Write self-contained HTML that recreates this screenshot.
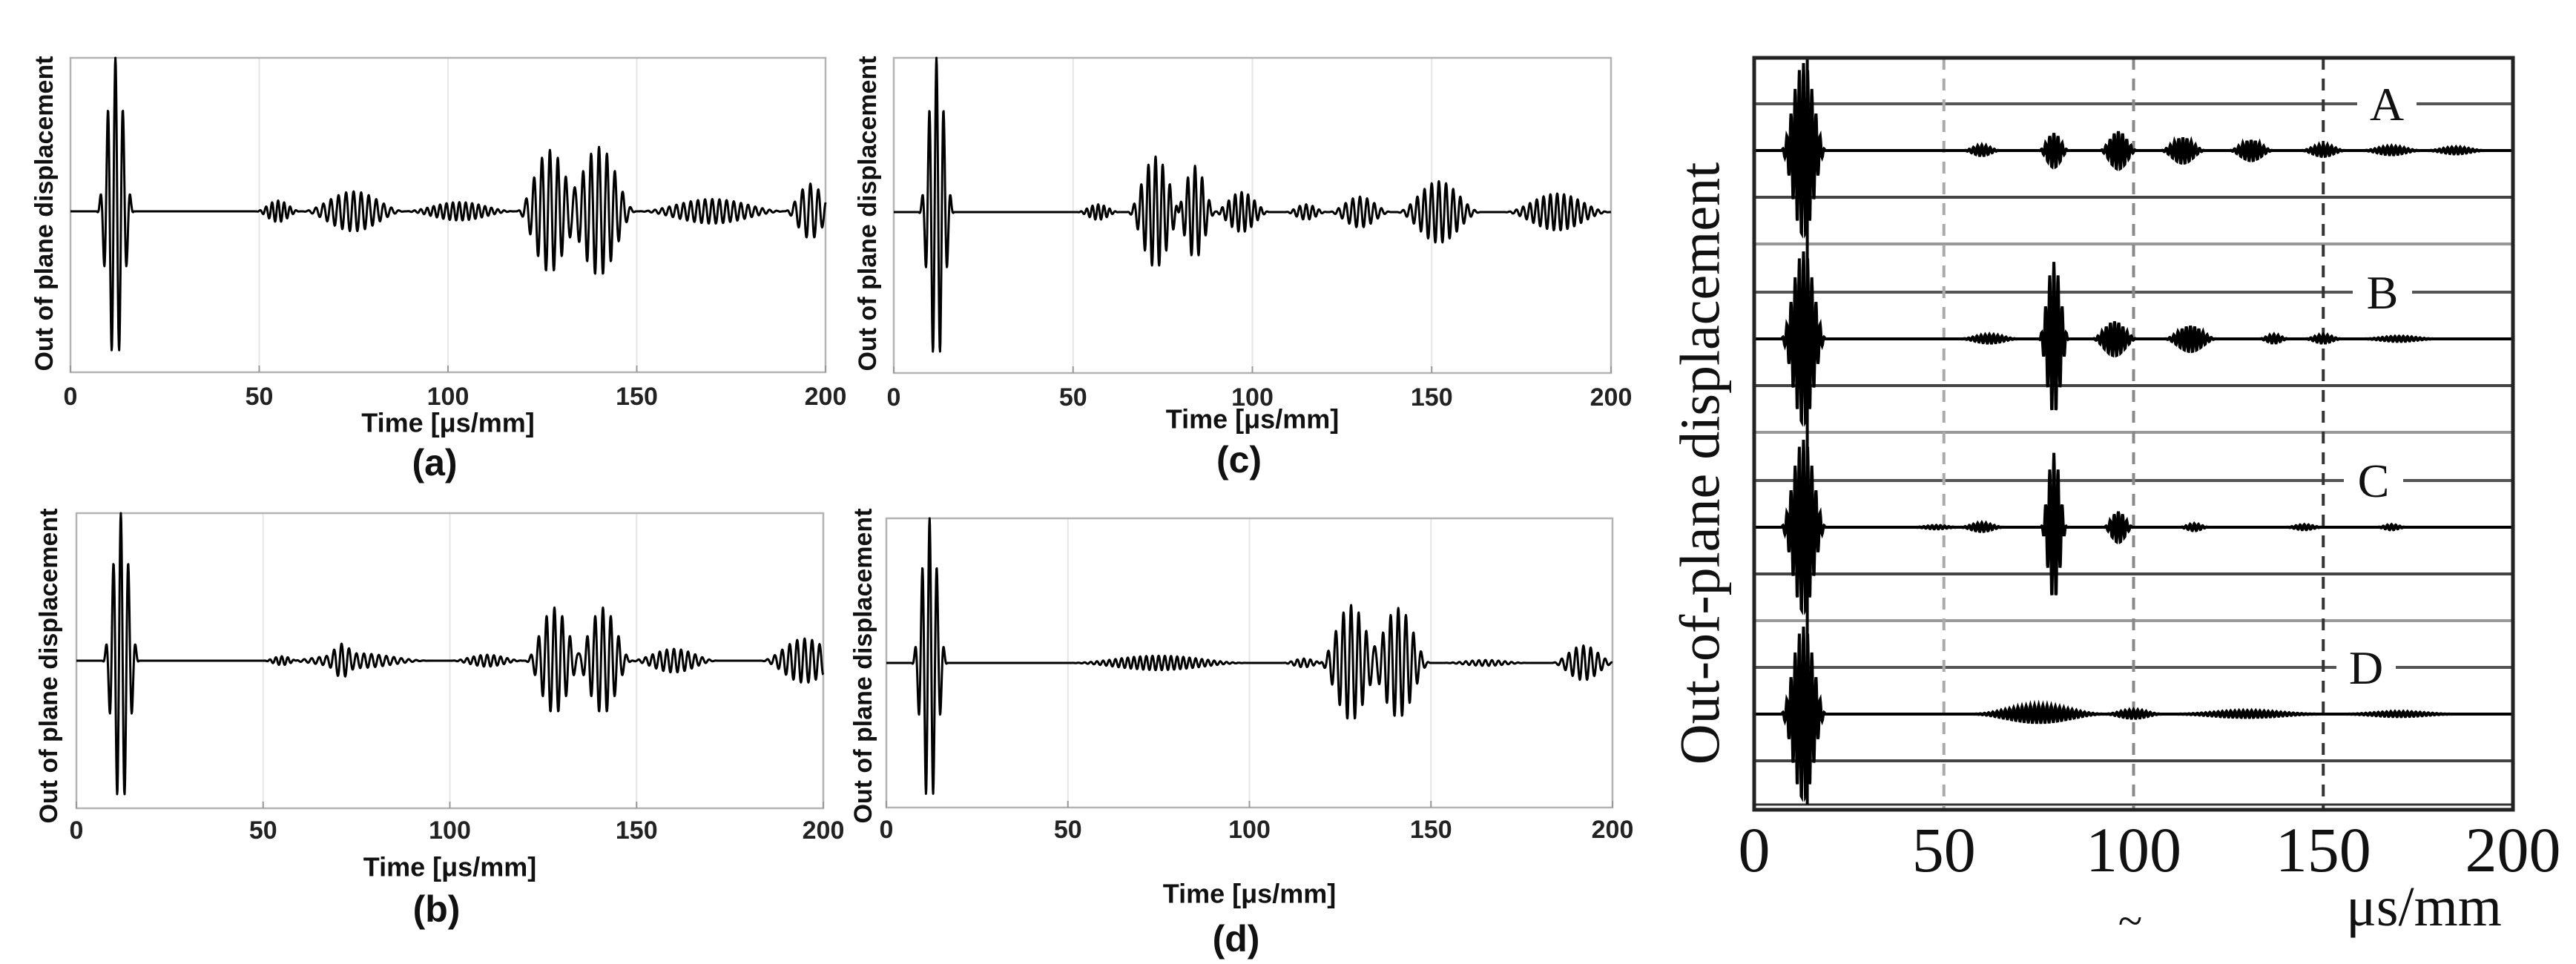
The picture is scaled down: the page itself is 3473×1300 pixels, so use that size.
<!DOCTYPE html>
<html><head><meta charset="utf-8"><style>
html,body{margin:0;padding:0;background:#fff;}
svg{display:block;}
.tk{font-family:"Liberation Sans",Arial,sans-serif;font-weight:bold;font-size:34px;fill:#222;}
.yl{font-family:"Liberation Sans",Arial,sans-serif;font-weight:bold;font-size:34px;fill:#111;}
.xl{font-family:"Liberation Sans",Arial,sans-serif;font-weight:bold;font-size:36px;fill:#111;}
.pl{font-family:"Liberation Sans",Arial,sans-serif;font-weight:bold;font-size:50px;fill:#111;}
.rt{font-family:"Liberation Serif","Times New Roman",serif;fill:#111;}
</style></head><body>
<svg id="fig" width="3473" height="1300" viewBox="0 0 3473 1300" xmlns="http://www.w3.org/2000/svg"></svg>
<script>
// ---- data: wave packets (center µs, half-width µs, amplitude, period µs)
const xTicks = [0, 50, 100, 150, 200];
const xTickLabels = ["0", "50", "100", "150", "200"];

const aCenters = [11.9, 55, 75, 103, 127, 140, 170, 196];
const aWidths  = [5, 6, 14, 15, 9, 10, 20, 7];
const aAmps    = [1.0, 0.07, 0.13, 0.06, 0.40, 0.42, 0.08, 0.18];
const aPeriods = [2.0, 1.6, 2.0, 1.7, 2.1, 2.1, 1.9, 2.1];

const bCenters = [11.9, 55, 75, 71, 110, 128, 141, 160, 195];
const bWidths  = [5, 5, 20, 4, 10, 8, 8, 12, 12];
const bAmps    = [1.0, 0.03, 0.05, 0.07, 0.04, 0.36, 0.36, 0.08, 0.15];
const bPeriods = [2.0, 1.6, 2.0, 2.0, 1.8, 2.1, 2.1, 1.9, 2.0];

const cCenters = [11.9, 57, 73, 84, 97, 115, 130, 152, 185];
const cWidths  = [5, 6, 8, 6, 8, 6, 9, 12, 15];
const cAmps    = [1.0, 0.05, 0.36, 0.30, 0.13, 0.05, 0.10, 0.20, 0.12];
const cPeriods = [2.0, 1.6, 2.0, 2.0, 1.8, 1.8, 2.0, 2.0, 1.9];

const dCenters = [11.9, 75, 115, 128, 141, 165, 192];
const dWidths  = [5, 25, 6, 9, 9, 12, 9];
const dAmps    = [1.0, 0.05, 0.03, 0.40, 0.38, 0.02, 0.12];
const dPeriods = [2.0, 1.7, 1.8, 2.1, 2.1, 1.8, 2.0];

// right panel traces
const traceLabels = ["A", "B", "C", "D"];
const rACenters = [13, 60, 79, 96, 113, 131, 150, 168, 185];
const rAWidths  = [6, 5, 4, 5, 6, 6, 6, 8, 8];
const rAAmps    = [1.0, 0.06, 0.2, 0.22, 0.15, 0.12, 0.07, 0.05, 0.04];
const rBCenters = [13, 62, 79, 95, 115, 137, 150, 170];
const rBWidths  = [6, 8, 4, 6, 7, 4, 5, 10];
const rBAmps    = [1.0, 0.05, 0.88, 0.2, 0.15, 0.05, 0.05, 0.03];
const rCCenters = [13, 48, 60, 79, 96, 116, 145, 168];
const rCWidths  = [6, 6, 6, 3.5, 4, 4, 5, 4];
const rCAmps    = [1.0, 0.02, 0.05, 0.85, 0.18, 0.04, 0.03, 0.03];
const rDCenters = [13, 75, 100, 130, 170];
const rDWidths  = [6, 18, 8, 20, 15];
const rDAmps    = [1.0, 0.1, 0.05, 0.04, 0.03];

const NS = "http://www.w3.org/2000/svg";
const svg = document.getElementById("fig");
function mk(tag, attrs, parent) {
  const e = document.createElementNS(NS, tag);
  for (const k in attrs) e.setAttribute(k, attrs[k]);
  (parent || svg).appendChild(e);
  return e;
}
function env(t, c, hw) {
  const d = t - c;
  if (Math.abs(d) >= hw) return 0;
  return 0.5 * (1 + Math.cos(Math.PI * d / hw));
}
function signal(t, C, W, A, P) {
  let s = 0;
  for (let i = 0; i < C.length; i++) {
    const e = env(t, C[i], W[i]);
    if (e > 0) s += A[i] * e * Math.sin(2 * Math.PI * (t - C[i]) / P[i] + Math.PI / 2);
  }
  return s;
}

function smallPanel(id, box, C, W, A, P, ylx, yly, tly, lbly, letter) {
  const g = mk("g", {});
  
  
  const xs = v => box.x0 + (v / 200) * (box.x1 - box.x0);
  const amp = box.zero - box.y0;
  const ys = v => box.zero - v * amp;
  for (let i = 1; i < xTicks.length - 1; i++) {
    const gl = mk("line", {x1: xs(xTicks[i]), x2: xs(xTicks[i]), y1: box.y0, y2: box.y1, stroke: "#e6e6e6", "stroke-width": 2}, g);
    
    
  }
  const fr = mk("rect", {x: box.x0, y: box.y0, width: box.x1 - box.x0, height: box.y1 - box.y0, fill: "none", stroke: "#b3b3b3", "stroke-width": 2.5}, g);
  
  
  for (let i = 0; i < xTicks.length; i++) {
    const x = xs(xTicks[i]);
    const tm = mk("line", {x1: x, x2: x, y1: box.y1, y2: box.y1 - 9, stroke: "#999", "stroke-width": 2}, g);
    
    
    const tl = mk("text", {x: x, y: tly, "text-anchor": "middle", "dominant-baseline": "middle", class: "tk"}, g);
    tl.textContent = xTickLabels[i];
    
    
  }
  let d = "";
  for (let t = 0; t <= 200; t += 0.1) {
    d += (t === 0 ? "M" : "L") + xs(t).toFixed(1) + " " + ys(signal(t, C, W, A, P)).toFixed(1);
  }
  const path = mk("path", {d: d, fill: "none", stroke: "#000", "stroke-width": 3, "stroke-linejoin": "round"}, g);
  
  
  const yl = mk("text", {x: ylx, y: yly, "text-anchor": "middle", "dominant-baseline": "middle", class: "yl", transform: "rotate(-90 " + ylx + " " + yly + ")"}, g);
  yl.textContent = "Out of plane displacement";
  
  
  const xl = mk("text", {x: (box.x0 + box.x1) / 2, y: lbly[0], "text-anchor": "middle", "dominant-baseline": "middle", class: "xl"}, g);
  xl.textContent = "Time [μs/mm]";
  
  
  const pl = mk("text", {x: (box.x0 + box.x1) / 2 - 18, y: lbly[1], "text-anchor": "middle", "dominant-baseline": "middle", class: "pl"}, g);
  pl.textContent = letter;
  
  
}

smallPanel("a", {x0: 95, x1: 1113, y0: 78, y1: 502, zero: 285}, aCenters, aWidths, aAmps, aPeriods, 62, 288, 537, [573, 628], "(a)");
smallPanel("c", {x0: 1205, x1: 2172, y0: 78, y1: 503, zero: 286}, cCenters, cWidths, cAmps, cPeriods, 1172, 288, 538, [568, 624], "(c)");
smallPanel("b", {x0: 103, x1: 1110, y0: 692, y1: 1090, zero: 891}, bCenters, bWidths, bAmps, bPeriods, 68, 898, 1122, [1172, 1230], "(b)");
smallPanel("d", {x0: 1195, x1: 2174, y0: 699, y1: 1089, zero: 894}, dCenters, dWidths, dAmps, dPeriods, 1166, 898, 1121, [1208, 1270], "(d)");

// ---- right panel
(function () {
  const g = mk("g", {});
  
  
  const X0 = 2365, X1 = 3388, Y0 = 78, Y1 = 1092;
  const xs = v => X0 + (v / 200) * (X1 - X0);
  const baselines = [203, 457, 711, 963];
  const half = 63;
  const hl = [];
  baselines.forEach(b => { hl.push([b - half, "#555"]); hl.push([b + half, "#444"]); hl.push([b + 2 * half, "#999"]); });
  hl.forEach(h => {
    if (h[0] >= Y1 - 4) return;
    const l = mk("line", {x1: X0, x2: X1, y1: h[0], y2: h[0], stroke: h[1], "stroke-width": 4}, g);
    
    
  });
  const dl = mk("line", {x1: X0, x2: X1, y1: Y1 - 7, y2: Y1 - 7, stroke: "#333", "stroke-width": 3}, g);
  
  
  const dashCols = ["#aaa", "#888", "#333"];
  [50, 100, 150].forEach((v, i) => {
    const l = mk("line", {x1: xs(v), x2: xs(v), y1: Y0, y2: Y1, stroke: dashCols[i], "stroke-width": 4, "stroke-dasharray": "16 12"}, g);
    
    
  });
  const traces = [[rACenters, rAWidths, rAAmps], [rBCenters, rBWidths, rBAmps], [rCCenters, rCWidths, rCAmps], [rDCenters, rDWidths, rDAmps]];
  const labelX = [3218, 3212, 3200, 3190];
  traces.forEach((tr, k) => {
    const P = tr[0].map(() => 1.1);
    const b = baselines[k];
    let d = "";
    for (let t = 0; t <= 200; t += 0.1) {
      d += (t === 0 ? "M" : "L") + xs(t).toFixed(1) + " " + (b - 118 * signal(t, tr[0], tr[1], tr[2], P)).toFixed(1);
    }
    const p = mk("path", {d: d, fill: "none", stroke: "#000", "stroke-width": 4}, g);
    
    
    const bl = mk("line", {x1: X0, x2: X1, y1: b, y2: b, stroke: "#000", "stroke-width": 4}, g);
    
    
    const lb = b - half;
    const bg = mk("rect", {x: labelX[k] - 40, y: lb - 32, width: 80, height: 64, fill: "#fff"}, g);
    
    
    const tx = mk("text", {x: labelX[k], y: lb + 22, "text-anchor": "middle", class: "rt", "font-size": "64"}, g);
    tx.textContent = traceLabels[k];
    
    
  });
  const vl = mk("line", {x1: xs(14), x2: xs(14), y1: Y0, y2: Y1 - 7, stroke: "#000", "stroke-width": 4}, g);
  
  
  const fr = mk("rect", {x: X0, y: Y0, width: X1 - X0, height: Y1 - Y0, fill: "none", stroke: "#222", "stroke-width": 5}, g);
  
  
  for (let i = 0; i < xTicks.length; i++) {
    const tl = mk("text", {x: xs(xTicks[i]), y: 1175, "text-anchor": "middle", class: "rt", "font-size": "86"}, g);
    tl.textContent = xTickLabels[i];
    
    
  }
  const u = mk("text", {x: 3268, y: 1248, "text-anchor": "middle", class: "rt", "font-size": "76"}, g);
  u.textContent = "μs/mm";
  
  
  const tl = mk("text", {x: 2872, y: 1262, "text-anchor": "middle", class: "rt", "font-size": "60", fill: "#666"}, g);
  tl.textContent = "~";
  
  
  const yl = mk("text", {x: 2300, y: 625, "text-anchor": "middle", "dominant-baseline": "middle", class: "rt", "font-size": "76", transform: "rotate(-90 2300 625)"}, g);
  yl.textContent = "Out-of-plane displacement";
  
  
})();
</script>
</body></html>
